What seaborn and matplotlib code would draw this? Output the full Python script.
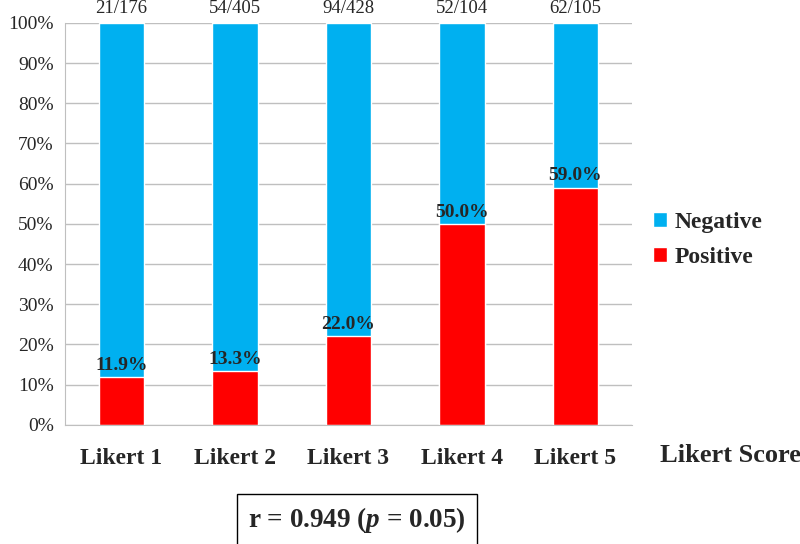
import seaborn as sns
import matplotlib.pyplot as plt
import pandas as pd

categories = ["Likert 1", "Likert 2", "Likert 3", "Likert 4", "Likert 5"]
positive_pct = [11.9, 13.3, 22.0, 50.0, 59.0]
negative_pct = [100 - p for p in positive_pct]
counts = ["21/176", "54/405", "94/428", "52/104", "62/105"]

sns.set_style("white")
plt.rcParams['font.family'] = ['Liberation Serif', 'DejaVu Serif']
plt.rcParams['mathtext.fontset'] = 'custom'
plt.rcParams['mathtext.rm'] = 'Liberation Serif:bold'
plt.rcParams['mathtext.it'] = 'Liberation Serif:italic:bold'
plt.rcParams['mathtext.bf'] = 'Liberation Serif:bold'

df = pd.DataFrame({"cat": categories, "pos": positive_pct, "neg": negative_pct})
df["total"] = df["pos"] + df["neg"]

fig = plt.figure(figsize=(8, 5.44), dpi=100)
ax = fig.add_axes([0.081, 0.219, 0.709, 0.739])

sns.barplot(data=df, x="cat", y="total", color="#00B0F0", width=0.4,
            saturation=1, ax=ax, label="Negative")
sns.barplot(data=df, x="cat", y="pos", color="#FF0000", width=0.4,
            saturation=1, ax=ax, label="Positive")

ax.set_ylim(0, 100)
ax.set_xlim(-0.5, len(categories) - 0.5)
ax.set_yticks(range(0, 101, 10))
ax.set_yticklabels([f"{v}%" for v in range(0, 101, 10)], fontsize=14)
ax.yaxis.grid(True, color="#BFBFBF", linewidth=1)
ax.set_axisbelow(True)
ax.tick_params(axis="y", length=0, pad=8)

ax.set_xticks(range(len(categories)))
ax.set_xticklabels(categories, fontsize=17, fontweight="bold")
ax.set_xticks([i - 0.5 for i in range(len(categories) + 1)], minor=True)
ax.tick_params(axis="x", which="major", length=0, pad=17)
ax.tick_params(axis="x", which="minor", length=7, color="#BFBFBF", width=1)
ax.set_xlabel("")
ax.set_ylabel("")

for s in ["top", "right"]:
    ax.spines[s].set_visible(False)
for s in ["left", "bottom"]:
    ax.spines[s].set_color("#BFBFBF")

for i, (p, c) in enumerate(zip(positive_pct, counts)):
    ax.text(i, p + 0.8, f"{p:.1f}%", ha="center", va="bottom",
            fontsize=14, fontweight="bold")
    ax.text(i, 101.5, c, ha="center", va="bottom", fontsize=13.5)

fig.text(0.825, 0.163, "Likert Score", fontsize=19, fontweight="bold",
         va="center", ha="left")

handles, labels = ax.get_legend_handles_labels()
leg = ax.legend(handles, labels, loc="center left", bbox_to_anchor=(1.0, 0.46),
                frameon=False, prop={"weight": "bold", "size": 17},
                handlelength=0.6, handleheight=0.6, handletextpad=0.3,
                labelspacing=0.6)

fig.text(0.446, 0.044, r"r = 0.949 ($p$ = $\mathit{0.05}$)",
         fontsize=19.5, fontweight="bold", ha="center", va="center",
         bbox=dict(boxstyle="square,pad=0.4", facecolor="white",
                   edgecolor="black", linewidth=1))

fig.savefig("out.png", dpi=100)
